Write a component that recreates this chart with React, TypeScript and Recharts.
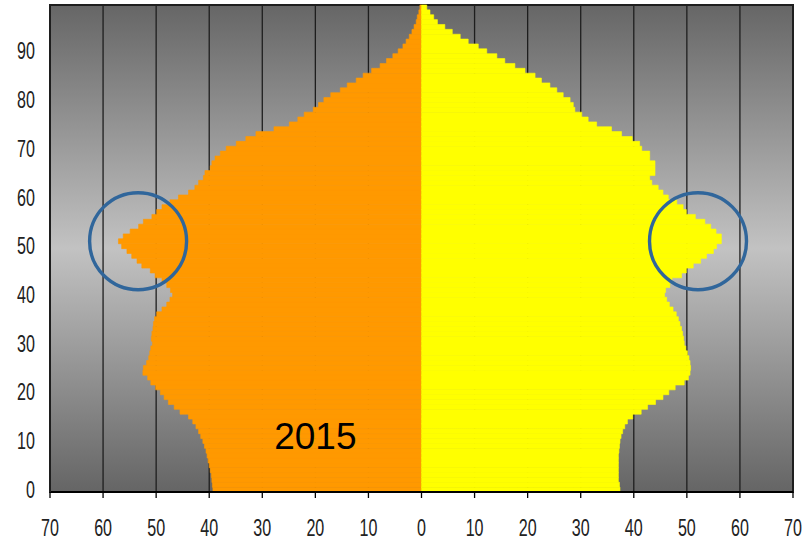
import React from 'react';
import { BarChart, Bar, XAxis, YAxis, CartesianGrid, ReferenceDot, ReferenceArea } from 'recharts';

// ages 0..99, one bar per year
const ages = Array.from({ length: 100 }, (_, i) => i);

// left side (orange), age 0 first
const males = [
  39.3, 39.4, 39.5, 39.6, 39.8, 40.0, 40.2, 40.4, 40.6, 40.9,
  41.2, 41.6, 42.0, 42.5, 43.1, 43.9, 45.5, 46.6, 47.7, 48.5,
  49.2, 50.1, 51.0, 51.6, 52.5, 52.4, 51.8, 51.4, 51.2, 51.0,
  50.7, 50.9, 50.8, 50.6, 50.5, 50.3, 49.9, 48.9, 48.0, 47.4,
  46.9, 47.3, 48.0, 48.9, 50.2, 51.1, 52.7, 53.6, 54.6, 55.5,
  56.5, 57.1, 56.2, 54.9, 53.3, 52.4, 50.8, 49.9, 48.9, 47.4,
  45.8, 43.9, 42.7, 42.0, 41.1, 40.8, 39.8, 39.5, 38.9, 37.9,
  36.8, 34.9, 33.1, 31.2, 27.8, 24.9, 23.3, 22.1, 20.4, 19.4,
  18.4, 17.1, 15.3, 14.0, 12.3, 11.0, 9.4, 7.8, 6.6, 5.4,
  4.4, 3.5, 2.9, 2.3, 1.8, 1.4, 1.0, 0.8, 0.5, 0.3,
];

// right side (yellow)
const females = [
  37.4, 37.3, 37.1, 37.1, 37.1, 37.1, 37.1, 37.1, 37.2, 37.3,
  37.4, 37.6, 37.9, 38.3, 38.8, 39.8, 41.4, 42.6, 44.1, 45.5,
  46.6, 47.8, 49.5, 50.3, 50.6, 50.7, 50.6, 50.4, 50.1, 49.8,
  49.5, 49.4, 49.2, 49.0, 48.7, 48.4, 48.0, 47.4, 46.7, 46.2,
  45.8, 46.0, 46.8, 47.2, 49.0, 49.9, 51.2, 52.6, 53.7, 55.0,
  55.6, 56.5, 56.5, 55.5, 54.5, 53.4, 51.6, 49.9, 49.3, 48.1,
  46.5, 45.5, 44.6, 43.4, 43.0, 44.0, 44.0, 44.0, 43.0, 43.0,
  41.5, 41.1, 39.7, 37.7, 35.8, 33.0, 31.4, 30.2, 28.9, 28.6,
  28.0, 26.7, 25.5, 24.2, 22.6, 21.4, 19.5, 17.6, 15.7, 14.2,
  12.3, 10.7, 8.8, 7.3, 5.8, 4.4, 3.0, 2.3, 1.6, 1.0,
];

const xTicks = [-70, -60, -50, -40, -30, -20, -10, 0, 10, 20, 30, 40, 50, 60, 70];
const yearLabel = '2015';

const data = ages.map((age, i) => ({ age, male: -males[i], female: females[i] }));

// narrow, condensed-looking tick text
const NarrowTick = (props: any) => {
  const { x, y, payload, textAnchor, dy, side } = props;
  const value = side === 'x' ? String(Math.abs(payload.value)) : String(payload.value);
  return (
    <g transform={`translate(${x},${y})`}>
      <text
        transform="scale(0.7,1)"
        textAnchor={textAnchor}
        dy={dy}
        fontFamily="'Liberation Sans', Arial, sans-serif"
        fontSize={23}
        fill="#222"
      >
        {value}
      </text>
    </g>
  );
};

const App = () => {
  return (
    <div style={{ position: 'absolute', left: 0, top: 0, width: 811, height: 541, background: '#fff' }}>
      <BarChart
        width={811}
        height={541}
        data={data}
        layout="vertical"
        stackOffset="sign"
        barCategoryGap={0}
        margin={{ top: 5, right: 18, left: 0, bottom: 0 }}
      >
        <defs>
          <linearGradient id="bgGrad" x1="0" y1="0" x2="0" y2="1">
            <stop offset="0%" stopColor="#666666" />
            <stop offset="50%" stopColor="#c2c2c2" />
            <stop offset="100%" stopColor="#656565" />
          </linearGradient>
        </defs>
        <CartesianGrid horizontal={false} fill="url(#bgGrad)" fillOpacity={1} stroke="#1e1e1e" strokeWidth={1.3} />
        <XAxis
          type="number"
          domain={[-70, 70]}
          ticks={xTicks}
          height={49}
          axisLine={{ stroke: '#000', strokeWidth: 2 }}
          tickLine={{ stroke: '#000', strokeWidth: 1.3 }}
          tickSize={6}
          tickMargin={22}
          tick={(p: any) => <NarrowTick {...p} side="x" textAnchor="middle" dy="0.71em" />}
          allowDataOverflow
        />
        <YAxis
          type="category"
          dataKey="age"
          reversed
          interval={9}
          width={50}
          axisLine={{ stroke: '#1e1e1e', strokeWidth: 2 }}
          tickLine={false}
          tickSize={0}
          tickMargin={15}
          tick={(p: any) => <NarrowTick {...p} side="y" textAnchor="end" dy="0.355em" />}
        />
        <Bar dataKey="male" stackId="p" fill="#ff9900" stroke="#ff9900" strokeWidth={0.6} isAnimationActive={false} />
        <Bar dataKey="female" stackId="p" fill="#ffff00" stroke="#ffff00" strokeWidth={0.6} isAnimationActive={false} />
        <ReferenceArea x1={-70} x2={70} fill="none" stroke="#1e1e1e" strokeWidth={2} ifOverflow="visible" />
        <ReferenceDot x={-53.4} y={51} r={48.5} fill="none" stroke="#30669b" strokeWidth={3.4} />
        <ReferenceDot x={52.1} y={51} r={48.5} fill="none" stroke="#30669b" strokeWidth={3.4} />
        <ReferenceDot
          x={-20}
          y={11}
          r={0}
          fill="none"
          stroke="none"
          label={{ value: yearLabel, position: 'center', fontFamily: "'Liberation Sans', Arial, sans-serif", fontSize: 37, fill: '#000' }}
        />
      </BarChart>
    </div>
  );
};

export default App;
